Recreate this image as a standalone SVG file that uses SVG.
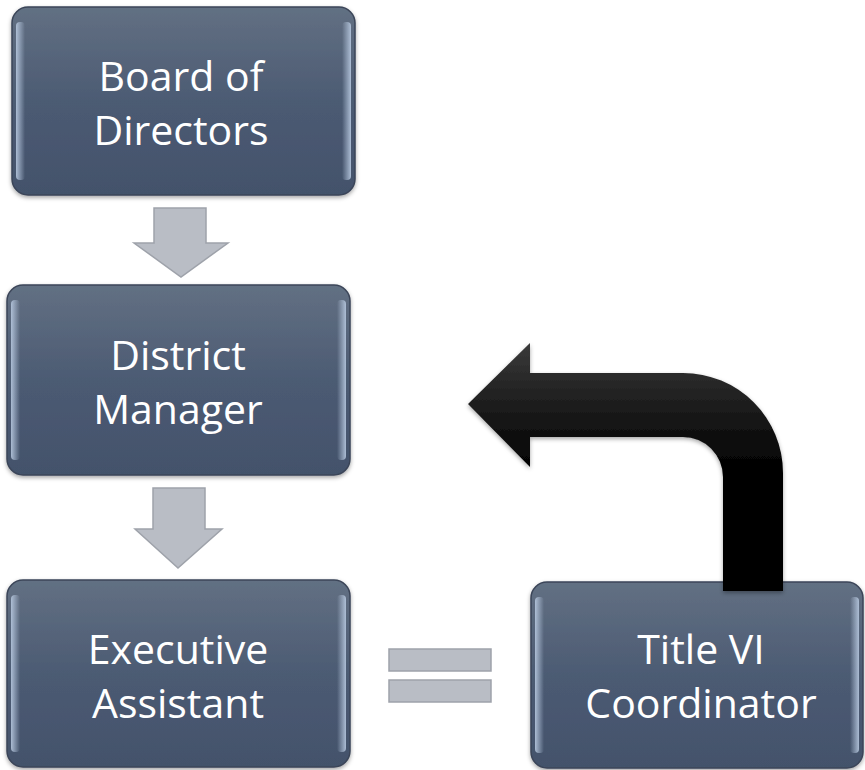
<svg xmlns="http://www.w3.org/2000/svg" width="865" height="770" viewBox="0 0 865 770">
  <defs>
    <linearGradient id="boxFill" x1="0" y1="0" x2="0" y2="1">
      <stop offset="0" stop-color="#627083"/>
      <stop offset="0.5" stop-color="#4c5b73"/>
      <stop offset="1" stop-color="#43526b"/>
    </linearGradient>
    <linearGradient id="edgeL" x1="0" y1="0" x2="1" y2="0">
      <stop offset="0" stop-color="#b7c8df" stop-opacity="0.9"/>
      <stop offset="1" stop-color="#b7c8df" stop-opacity="0"/>
    </linearGradient>
    <linearGradient id="edgeR" x1="1" y1="0" x2="0" y2="0">
      <stop offset="0" stop-color="#b7c8df" stop-opacity="0.9"/>
      <stop offset="1" stop-color="#b7c8df" stop-opacity="0"/>
    </linearGradient>
    <linearGradient id="blackFill" gradientUnits="userSpaceOnUse" x1="0" y1="343" x2="0" y2="480">
      <stop offset="0" stop-color="#3a3a3a"/>
      <stop offset="0.75" stop-color="#0a0a0a"/>
      <stop offset="1" stop-color="#000000"/>
    </linearGradient>
    <filter id="shadow" x="-10%" y="-10%" width="120%" height="120%">
      <feDropShadow dx="0" dy="2" stdDeviation="2" flood-color="#000" flood-opacity="0.35"/>
    </filter>
  </defs>
  <style>
    .box { fill: url(#boxFill); stroke: #3b4558; stroke-width: 1.5; filter: url(#shadow); }
    .hl-l { fill: url(#edgeL); }
    .hl-r { fill: url(#edgeR); }
    .label { font-family: "Open Sans", "Liberation Sans", sans-serif; font-size: 41px; fill: #ffffff; text-anchor: middle; }
    .gray { fill: #b9bdc5; stroke: #9ea2aa; stroke-width: 1.5; stroke-linejoin: miter; }
    .black { fill: url(#blackFill); filter: url(#shadow); }
  </style>

  <g id="board">
    <rect class="box" x="12" y="7" width="343" height="188" rx="16"/>
    <rect class="hl-l" x="16" y="22" width="9" height="158" rx="4"/>
    <rect class="hl-r" x="342" y="22" width="9" height="158" rx="4"/>
    <text class="label" x="181" y="91">Board of</text>
    <text class="label" x="181" y="145">Directors</text>
  </g>

  <g id="district">
    <rect class="box" x="7" y="285" width="343" height="190" rx="16"/>
    <rect class="hl-l" x="11" y="300" width="9" height="160" rx="4"/>
    <rect class="hl-r" x="337" y="300" width="9" height="160" rx="4"/>
    <text class="label" x="178" y="370">District</text>
    <text class="label" x="178" y="424">Manager</text>
  </g>

  <g id="executive">
    <rect class="box" x="7" y="580" width="343" height="187" rx="16"/>
    <rect class="hl-l" x="11" y="595" width="9" height="157" rx="4"/>
    <rect class="hl-r" x="337" y="595" width="9" height="157" rx="4"/>
    <text class="label" x="178" y="664">Executive</text>
    <text class="label" x="178" y="718">Assistant</text>
  </g>

  <g id="titlevi">
    <rect class="box" x="531" y="582" width="332" height="186" rx="16"/>
    <rect class="hl-l" x="535" y="597" width="9" height="156" rx="4"/>
    <rect class="hl-r" x="850" y="597" width="9" height="156" rx="4"/>
    <text class="label" x="701" y="664">Title VI</text>
    <text class="label" x="701" y="718">Coordinator</text>
  </g>

  <g id="connectors">
    <path class="gray" d="M154,208 H206 V243 H228 L181,277 L134,243 H154 Z"/>
    <path class="gray" d="M153,488 H205 V529 H222 L178,568 L135,529 H153 Z"/>
    <rect class="gray" x="389" y="649" width="102" height="22"/>
    <rect class="gray" x="389" y="680" width="102" height="22"/>
    <path class="black" d="M468,404 L530,343 V373 H683 A100,100 0 0 1 783,473 V591 H723 V477 A40,40 0 0 0 683,437 H530 V467 Z"/>
  </g>
</svg>
